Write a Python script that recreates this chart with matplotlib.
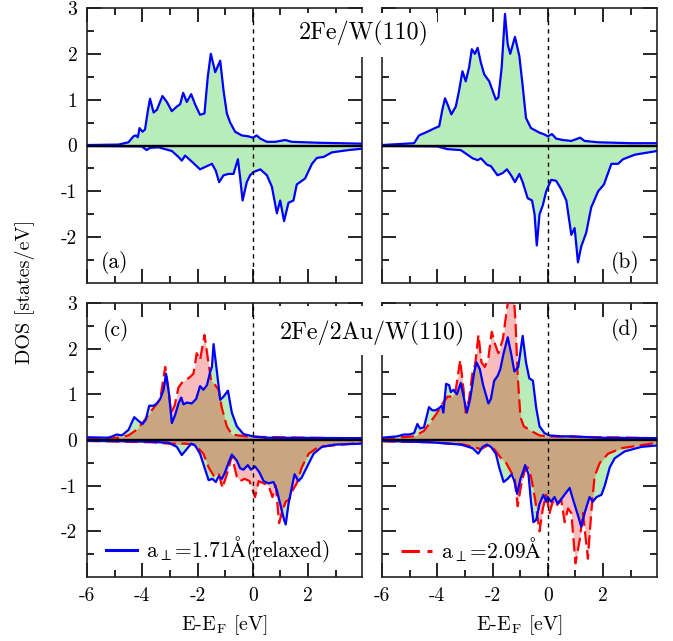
import numpy as np
import matplotlib
matplotlib.use("Agg")
import matplotlib.pyplot as plt
from matplotlib.patches import Rectangle
from matplotlib.lines import Line2D
from matplotlib.ticker import MultipleLocator, FixedLocator

plt.rcParams['font.family'] = 'serif'
plt.rcParams['font.serif'] = ['cmr10']
plt.rcParams['mathtext.fontset'] = 'cm'
plt.rcParams['axes.unicode_minus'] = False
plt.rcParams['axes.formatter.use_mathtext'] = True

# ---- (a) 2Fe/W(110), relaxed ----
e_a_up = [-6.0, -4.86, -4.5, -4.32, -4.23, -4.16, -4.1, -3.99, -3.9, -3.8, -3.72, -3.59, -3.47, -3.27,
          -3.11, -2.93, -2.75, -2.63, -2.52, -2.39, -2.23, -2.09, -1.91, -1.75, -1.63, -1.52, -1.36,
          -1.18, -1.06, -0.94, -0.82, -0.64, -0.4, -0.16, 0.0, 0.14, 0.27, 0.51, 0.81, 1.17, 1.41, 2.38, 3.95]
d_a_up = [0.01, 0.02, 0.07, 0.2, 0.22, 0.18, 0.38, 0.3, 0.35, 0.75, 1.02, 0.72, 0.78, 1.08,
          0.95, 0.75, 0.85, 0.9, 1.15, 0.95, 1.12, 0.9, 0.67, 0.7, 1.5, 2.0, 1.6,
          1.85, 1.2, 0.7, 0.5, 0.3, 0.22, 0.2, 0.17, 0.22, 0.15, 0.08, 0.08, 0.12, 0.08, 0.06, 0.04]
e_a_dn = [-6.0, -4.02, -3.84, -3.72, -3.41, -2.93, -2.69, -2.57, -2.45, -2.21, -1.91, -1.66, -1.48,
          -1.34, -1.22, -1.06, -0.88, -0.7, -0.54, -0.46, -0.37, -0.22, -0.1, 0.02, 0.27, 0.51, 0.69,
          0.87, 0.99, 1.13, 1.29, 1.47, 1.59, 1.89, 2.14, 2.32, 2.56, 2.86, 3.46, 3.95]
d_a_dn = [-0.01, -0.02, -0.1, -0.05, -0.04, -0.12, -0.25, -0.33, -0.22, -0.35, -0.52, -0.45, -0.4,
          -0.55, -0.8, -0.65, -0.62, -0.62, -0.3, -0.7, -1.2, -0.8, -0.65, -0.58, -0.52, -0.65, -0.9,
          -1.48, -1.2, -1.65, -1.25, -1.2, -0.85, -0.72, -0.4, -0.27, -0.25, -0.15, -0.1, -0.07]

# ---- (b) 2Fe/W(110), unrelaxed ----
e_b_up = [-6.0, -4.84, -4.66, -4.36, -4.12, -3.93, -3.81, -3.72, -3.63, -3.49, -3.33, -3.21, -3.09,
          -2.97, -2.85, -2.75, -2.64, -2.54, -2.42, -2.3, -2.12, -1.88, -1.79, -1.67, -1.55, -1.45,
          -1.36, -1.19, -1.03, -0.91, -0.79, -0.61, -0.3, -0.12, 0.0, 0.15, 0.3, 0.54, 0.85, 1.17,
          1.33, 1.82, 3.03, 3.95]
d_b_up = [0.01, 0.05, 0.22, 0.3, 0.37, 0.42, 0.8, 1.03, 0.9, 0.68, 0.85, 1.2, 1.62,
          1.4, 1.7, 2.1, 2.0, 2.13, 1.8, 1.55, 1.4, 1.0, 1.05, 1.7, 2.87, 2.2,
          2.0, 2.37, 1.95, 1.3, 0.6, 0.38, 0.28, 0.24, 0.2, 0.25, 0.15, 0.12, 0.1, 0.17,
          0.1, 0.07, 0.05, 0.05]
e_b_dn = [-6.0, -4.0, -3.63, -3.15, -2.72, -2.54, -2.42, -2.2, -2.06, -1.82, -1.63, -1.48, -1.33,
          -1.19, -1.03, -0.91, -0.73, -0.57, -0.48, -0.4, -0.3, -0.18, -0.06, 0.12, 0.3, 0.48, 0.67,
          0.85, 0.97, 1.09, 1.21, 1.39, 1.57, 1.82, 2.03, 2.3, 2.54, 2.72, 3.15, 3.95]
d_b_dn = [-0.01, -0.02, -0.08, -0.1, -0.28, -0.32, -0.28, -0.42, -0.45, -0.65, -0.6, -0.52, -0.65,
          -0.8, -0.62, -0.8, -1.15, -1.2, -1.5, -2.18, -1.5, -1.3, -1.0, -0.75, -0.77, -0.95, -1.2,
          -1.95, -1.8, -2.55, -2.2, -1.9, -1.35, -1.0, -0.85, -0.4, -0.4, -0.3, -0.2, -0.12]

# ---- (c) 2Fe/2Au/W(110), relaxed (blue) and a=2.09 (red) ----
e_c_up = [-6.0, -5.22, -4.92, -4.74, -4.5, -4.29, -4.14, -3.99, -3.87, -3.75, -3.59, -3.47, -3.35,
          -3.23, -3.14, -3.03, -2.93, -2.81, -2.69, -2.59, -2.51, -2.39, -2.21, -2.05, -1.91, -1.79,
          -1.66, -1.54, -1.48, -1.42, -1.3, -1.18, -1.06, -0.9, -0.76, -0.58, -0.34, 0.0, 0.45, 3.95]
d_c_up = [0.06, 0.05, 0.12, 0.1, 0.22, 0.5, 0.42, 0.35, 0.45, 0.75, 0.75, 0.8, 0.9,
          1.1, 1.45, 1.0, 0.37, 0.55, 0.8, 0.93, 0.78, 0.82, 0.8, 0.9, 1.18, 1.1,
          1.2, 1.5, 1.6, 2.1, 1.5, 0.88, 0.95, 1.08, 0.6, 0.3, 0.13, 0.08, 0.05, 0.04]
e_c_up2 = [-6.0, -4.86, -4.5, -4.26, -4.02, -3.78, -3.53, -3.35, -3.17, -3.05, -2.96, -2.83, -2.69,
           -2.51, -2.33, -2.15, -2.03, -1.91, -1.75, -1.63, -1.51, -1.36, -1.24, -1.12, -0.94, -0.76,
           -0.52, -0.28, 0.0, 3.95]
d_c_up2 = [0.04, 0.05, 0.1, 0.2, 0.35, 0.55, 0.75, 0.9, 1.6, 1.1, 0.6, 0.75, 1.15,
           1.3, 1.35, 1.45, 1.9, 1.75, 2.3, 1.8, 1.3, 1.2, 1.1, 0.7, 0.3, 0.12,
           0.1, 0.08, 0.07, 0.03]
e_c_dn = [-6.0, -4.26, -3.66, -3.05, -2.75, -2.57, -2.39, -2.23, -2.09, -1.91, -1.75, -1.6, -1.46,
          -1.34, -1.24, -1.12, -1.0, -0.88, -0.76, -0.58, -0.46, -0.34, -0.18, -0.07, 0.08, 0.23,
          0.39, 0.57, 0.75, 0.87, 1.05, 1.13, 1.19, 1.29, 1.39, 1.51, 1.65, 1.77, 1.95, 2.2, 2.5,
          2.98, 3.95]
d_c_dn = [-0.02, -0.03, -0.04, -0.06, -0.15, -0.33, -0.2, -0.08, -0.12, -0.3, -0.6, -0.88, -0.85,
          -0.92, -0.8, -0.85, -0.7, -0.5, -0.32, -0.45, -0.62, -0.65, -0.55, -0.65, -0.58, -0.7,
          -0.9, -0.95, -0.92, -1.1, -1.55, -1.75, -1.85, -1.4, -1.1, -0.75, -0.9, -0.82, -0.6, -0.3, -0.15,
          -0.1, -0.08]
e_c_dn2 = [-6.0, -3.66, -3.05, -2.45, -2.09, -1.79, -1.6, -1.42, -1.24, -1.1, -0.94, -0.76, -0.58,
           -0.46, -0.3, -0.12, 0.08, 0.21, 0.39, 0.57, 0.71, 0.83, 0.95, 1.07, 1.19, 1.32, 1.44,
           1.59, 1.77, 2.02, 2.38, 3.95]
d_c_dn2 = [-0.02, -0.05, -0.08, -0.08, -0.1, -0.3, -0.6, -0.78, -0.72, -1.05, -0.75, -0.35, -0.8,
           -0.9, -0.85, -0.9, -1.25, -0.9, -0.95, -1.0, -1.25, -1.0, -1.82, -1.55, -1.35, -1.3, -1.1,
           -0.95, -0.6, -0.3, -0.15, -0.06]

# ---- (d) 2Fe/2Au/W(110), unrelaxed ----
e_d_up = [-6.0, -5.45, -5.21, -5.02, -4.84, -4.72, -4.62, -4.48, -4.3, -4.18, -4.06, -3.93, -3.84,
          -3.78, -3.68, -3.57, -3.51, -3.41, -3.29, -3.15, -3.03, -2.93, -2.81, -2.66, -2.58, -2.46,
          -2.34, -2.15, -2.06, -1.94, -1.82, -1.72, -1.6, -1.45, -1.33, -1.21, -1.07, -0.91, -0.79,
          -0.67, -0.54, -0.42, -0.3, -0.12, 0.06, 0.48, 0.91, 1.82, 3.95]
d_d_up = [0.05, 0.08, 0.12, 0.12, 0.15, 0.35, 0.25, 0.28, 0.72, 0.65, 0.65, 0.7, 0.75,
          0.6, 1.23, 1.2, 1.05, 1.1, 1.0, 1.25, 0.9, 0.6, 0.9, 1.5, 1.7, 1.55,
          1.2, 0.8, 0.9, 1.3, 1.4, 1.55, 1.9, 2.25, 1.9, 1.5, 1.6, 2.28, 1.7,
          1.35, 1.3, 0.7, 0.3, 0.15, 0.1, 0.08, 0.08, 0.05, 0.04]
e_d_up2 = [-6.0, -4.84, -4.48, -4.24, -4.0, -3.81, -3.63, -3.45, -3.33, -3.17, -3.05, -2.97, -2.85,
           -2.72, -2.63, -2.51, -2.4, -2.28, -2.15, -2.03, -1.91, -1.79, -1.63, -1.45, -1.33, -1.25,
           -1.17, -1.09, -0.99, -0.87, -0.61, -0.3, 0.0, 3.95]
d_d_up2 = [0.03, 0.08, 0.2, 0.4, 0.6, 0.8, 0.95, 0.95, 1.1, 1.75, 1.1, 0.6, 0.9,
           1.5, 1.65, 2.3, 1.7, 1.6, 1.8, 2.37, 2.1, 1.9, 2.2, 3.0, 3.3, 3.3,
           2.6, 1.4, 0.5, 0.3, 0.2, 0.1, 0.08, 0.04]
e_d_dn = [-6.0, -4.24, -3.15, -2.72, -2.52, -2.36, -2.2, -2.06, -1.88, -1.76, -1.6, -1.45, -1.31,
          -1.21, -1.11, -0.99, -0.91, -0.82, -0.7, -0.61, -0.52, -0.42, -0.3, -0.16, -0.06, 0.0,
          0.12, 0.24, 0.36, 0.54, 0.79, 0.91, 1.09, 1.21, 1.33, 1.51, 1.63, 1.76, 1.94, 2.06, 2.24,
          2.42, 2.78, 3.39, 3.95]
d_d_dn = [-0.02, -0.05, -0.1, -0.18, -0.3, -0.15, -0.1, -0.15, -0.3, -0.6, -0.92, -0.85, -0.75,
          -0.9, -1.18, -0.85, -0.72, -0.55, -0.75, -1.35, -1.8, -1.75, -1.4, -1.2, -1.35, -1.25,
          -1.35, -1.25, -1.4, -1.25, -1.05, -1.3, -1.65, -1.9, -1.6, -1.25, -1.35, -1.25, -1.2, -1.0, -0.6,
          -0.4, -0.25, -0.15, -0.12]
e_d_dn2 = [-6.0, -4.24, -3.03, -2.42, -2.18, -1.94, -1.69, -1.51, -1.33, -1.21, -1.09, -0.97, -0.85,
           -0.73, -0.61, -0.46, -0.3, -0.18, -0.06, 0.06, 0.18, 0.3, 0.48, 0.61, 0.73, 0.85, 1.0,
           1.15, 1.27, 1.45, 1.57, 1.69, 1.88, 2.18, 2.66, 3.95]
d_d_dn2 = [-0.03, -0.05, -0.1, -0.2, -0.12, -0.2, -0.4, -0.5, -0.7, -0.8, -1.45, -1.0, -0.7,
           -0.6, -0.8, -1.3, -2.0, -1.5, -1.2, -1.6, -1.35, -1.45, -1.3, -1.8, -1.5, -1.6, -2.7,
           -2.2, -1.6, -2.6, -1.6, -0.8, -0.5, -0.3, -0.18, -0.06]

xticks = [-6, -4, -2, 0, 2]
yticks = [-2, -1, 0, 1, 2, 3]
panel_labels = ['(a)', '(b)', '(c)', '(d)']
titles = ['2Fe/W(110)', '2Fe/2Au/W(110)']
legend_labels = [r'a$_\perp$=1.71$\mathrm{\AA}$(relaxed)', r'a$_\perp$=2.09$\mathrm{\AA}$']

green = '#b8ecb8'
pink = '#f8bcbc'
tan = '#c9a67f'
blue = '#0000ff'
red = '#ff0000'

fig = plt.figure(figsize=(6.73, 6.41), dpi=100)
W, H = 673.0, 641.0
def axpos(x0, y0, x1, y1):
    return [x0 / W, 1 - y1 / H, (x1 - x0) / W, (y1 - y0) / H]

ax_a = fig.add_axes(axpos(87, 8, 362, 283))
ax_b = fig.add_axes(axpos(382, 8, 657, 283))
ax_c = fig.add_axes(axpos(87, 303, 362, 577))
ax_d = fig.add_axes(axpos(382, 303, 657, 577))
axes = [ax_a, ax_b, ax_c, ax_d]


def fill_curve(ax, e, d, col):
    return ax.fill_between(e, d, 0, color=col, lw=0, zorder=1)


def draw_set(ax, blue_sets, red_sets=None):
    for (e, d) in blue_sets:
        fill_curve(ax, e, d, green)
    if red_sets is not None:
        for (eb, db), (er, dr) in zip(blue_sets, red_sets):
            fill_curve(ax, er, dr, pink)
            # overlap of both areas: red area clipped to the blue area
            gpath = ax.fill_between(eb, db, 0, color='none', lw=0).get_paths()[0]
            tf = fill_curve(ax, er, dr, tan)
            tf.set_zorder(2)
            tf.set_clip_path(gpath, ax.transData)
        for (e, d) in red_sets:
            ax.plot(e, d, color=red, lw=1.6, dashes=(6, 2.5), zorder=4)
    for (e, d) in blue_sets:
        ax.plot(e, d, color=blue, lw=1.6, zorder=5)


draw_set(ax_a, [(e_a_up, d_a_up), (e_a_dn, d_a_dn)])
draw_set(ax_b, [(e_b_up, d_b_up), (e_b_dn, d_b_dn)])
draw_set(ax_c, [(e_c_up, d_c_up), (e_c_dn, d_c_dn)], [(e_c_up2, d_c_up2), (e_c_dn2, d_c_dn2)])
draw_set(ax_d, [(e_d_up, d_d_up), (e_d_dn, d_d_dn)], [(e_d_up2, d_d_up2), (e_d_dn2, d_d_dn2)])

for i, ax in enumerate(axes):
    ax.set_xlim(-6, 3.95)
    ax.set_ylim(-3, 3)
    ax.axhline(0, color='k', lw=1.7, zorder=6)
    ax.axvline(0, color='k', lw=1.0, ls=(0, (3, 3)), zorder=7)
    ax.xaxis.set_major_locator(FixedLocator(xticks))
    ax.xaxis.set_minor_locator(FixedLocator([-5, -3, -1, 1, 3]))
    ax.yaxis.set_major_locator(FixedLocator(yticks))
    ax.yaxis.set_minor_locator(FixedLocator([-2.5, -1.5, -0.5, 0.5, 1.5, 2.5]))
    ax.tick_params(which='both', direction='in', top=True, right=True, width=1.2, labelsize=14)
    ax.tick_params(which='major', length=10, pad=7)
    ax.tick_params(which='minor', length=5)
    for sp in ax.spines.values():
        sp.set_linewidth(1.2)
        sp.set_color('#222222')
    if i in (0, 2):
        ax.set_yticklabels([str(t) for t in yticks])
    else:
        ax.set_yticklabels([])
    if i in (2, 3):
        ax.set_xticklabels([str(t) for t in xticks])
        ax.set_xlabel(r'E-E$_\mathrm{F}$ [eV]', fontsize=14.5, labelpad=6)
    else:
        ax.set_xticklabels([])

ax_a.text(0.10, 0.075, panel_labels[0], transform=ax_a.transAxes, fontsize=15.5, ha='center', va='center')
ax_b.text(0.885, 0.075, panel_labels[1], transform=ax_b.transAxes, fontsize=15.5, ha='center', va='center')
ax_c.text(0.105, 0.9, panel_labels[2], transform=ax_c.transAxes, fontsize=15.5, ha='center', va='center')
ax_d.text(0.885, 0.905, panel_labels[3], transform=ax_d.transAxes, fontsize=15.5, ha='center', va='center')

# title boxes straddling the two columns
fig.patches.append(Rectangle((292 / W, 1 - 57 / H), 145 / W, 44 / H, transform=fig.transFigure,
                             facecolor='white', edgecolor='none', zorder=10))
fig.text(364 / W, 1 - 33 / H, titles[0], fontsize=17.3, ha='center', va='center', zorder=11)
fig.patches.append(Rectangle((274 / W, 1 - 355 / H), 197 / W, 49 / H, transform=fig.transFigure,
                             facecolor='white', edgecolor='none', zorder=10))
fig.text(372.5 / W, 1 - 333 / H, titles[1], fontsize=17.3, ha='center', va='center', zorder=11)

fig.text(25 / W, 1 - 292 / H, 'DOS [states/eV]', fontsize=14.5, rotation=90, ha='center', va='center')

h_blue = Line2D([], [], color=blue, lw=2.2)
h_red = Line2D([], [], color=red, lw=2.2, dashes=(6, 2.5))
ax_c.legend([h_blue], [legend_labels[0]], loc='center left', bbox_to_anchor=(0.0, 0.1),
            frameon=False, fontsize=15.5, handlelength=1.4, handletextpad=0.45)
ax_d.legend([h_red], [legend_labels[1]], loc='center left', bbox_to_anchor=(0.0, 0.1),
            frameon=False, fontsize=15.5, handlelength=1.4, handletextpad=0.45)

fig.savefig('out.png', dpi=100)
